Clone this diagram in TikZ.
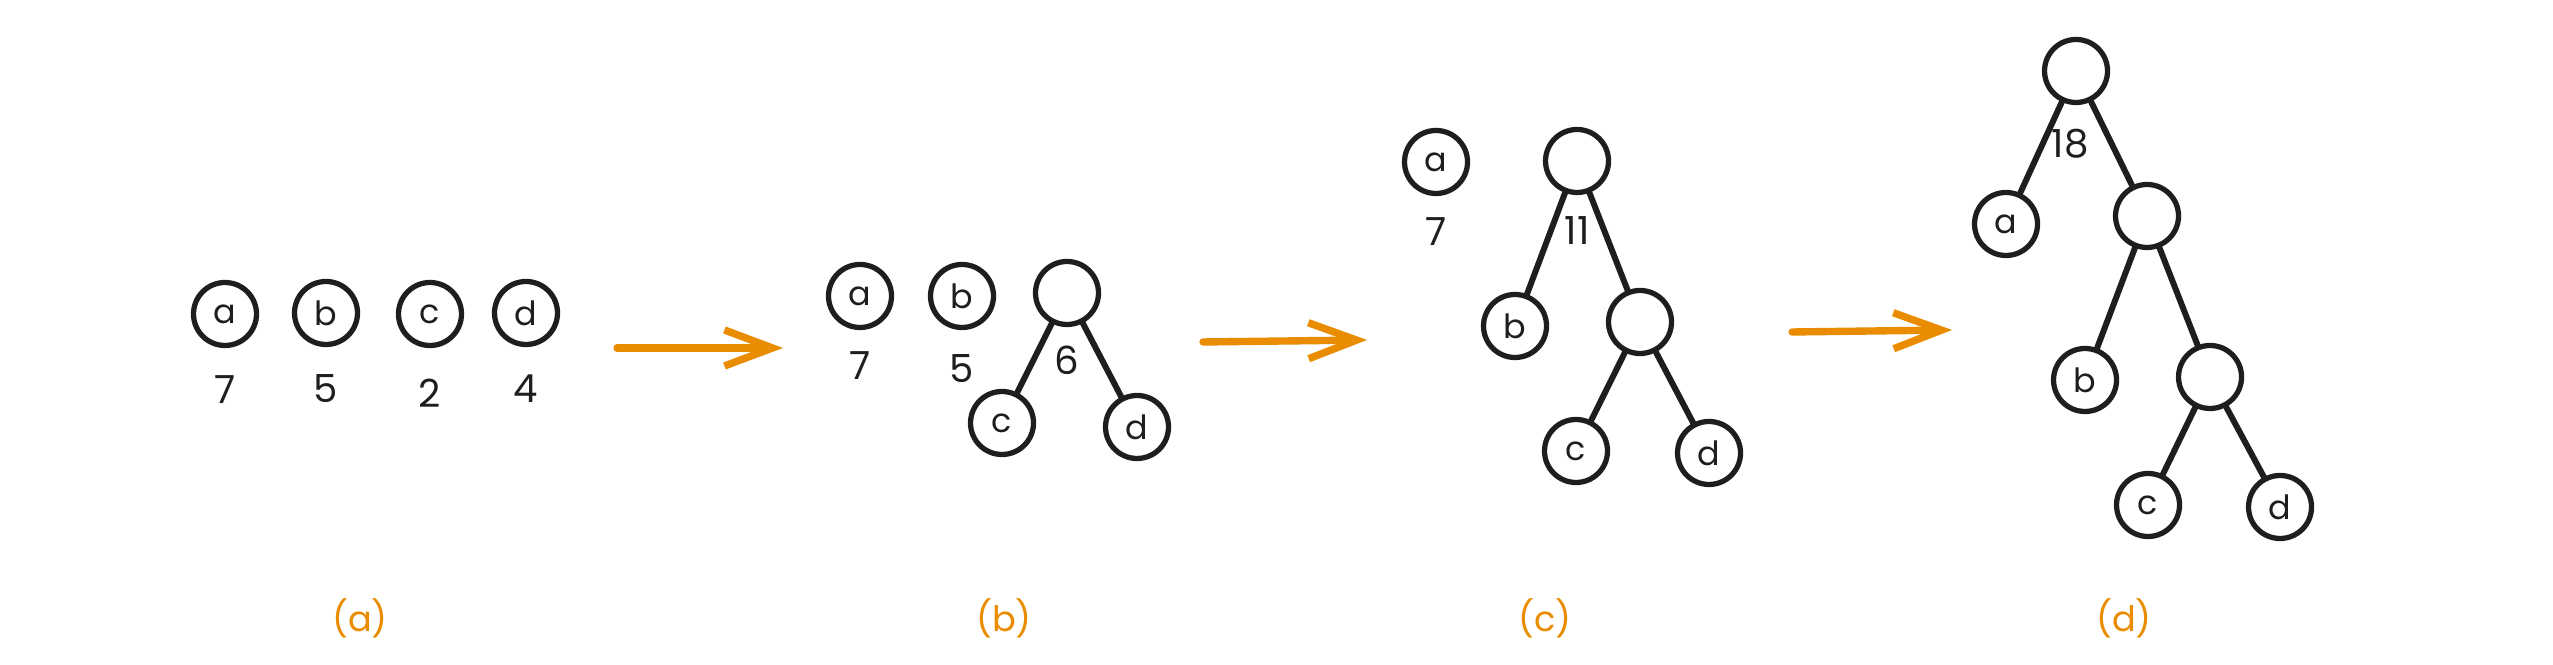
\documentclass[tikz,border=0pt]{standalone}
\usepackage{fontspec}
\setmainfont{Poppins}
\usepackage{tikz}
\usetikzlibrary{positioning,arrows.meta}
\definecolor{mergeorange}{RGB}{234,140,0}
\definecolor{inkblack}{RGB}{30,30,30}
\tikzset{
  leaf/.style={circle, draw=inkblack, line width=1.5pt, minimum size=6.3mm,
               inner sep=0pt, text=inkblack, font=\fontsize{9.5}{10}\selectfont},
  weight/.style={inner sep=0pt, text=inkblack, font=\fontsize{11}{12}\selectfont},
  branch/.style={draw=inkblack, line width=1.7pt, line cap=round},
  merge/.style={draw=mergeorange, line width=2.1pt, line cap=round,
                -{Straight Barb[length=4.8mm,width=3.6mm]}},
  panel/.style={text=mergeorange, font=\fontsize{10}{12}\selectfont},
}

\begin{document}
\begin{tikzpicture}
\useasboundingbox (0,0) rectangle (25.53,6.65);

% -----------------------------------------
% (a) four single nodes
% -----------------------------------------
\node[leaf] (a1) at (2.25,3.51) {a};
\node[leaf] (b1) at (3.26,3.52) {b};
\node[leaf] (c1) at (4.30,3.51) {c};
\node[leaf] (d1) at (5.26,3.52) {d};
\node[weight,below=2.7mm of a1] {7};
\node[weight,below=2.7mm of b1] {5};
\node[weight,below=3.0mm of c1] {2};
\node[weight,below=2.7mm of d1] {4};
\node[panel] (capa) at (3.60,0.47) {(a)};

\coordinate (s1) at (6.17,3.17);
\coordinate (e1) at (7.83,3.17);
\draw[merge] (s1) -- (e1);

% -----------------------------------------
% (b) c + d merged
% -----------------------------------------
\node[leaf] (a2) at (8.60,3.69) {a};
\node[leaf] (b2) at (9.62,3.69) {b};
\node[leaf] (r2) at (10.67,3.72) {};
\node[leaf] (c2) at (10.02,2.42) {c};
\node[leaf] (d2) at (11.37,2.38) {d};
\node[weight,below=2.1mm of a2] {7};
\node[weight,below=2.4mm of b2] {5};
\node[weight,below=1.8mm of r2] {6};
\draw[branch] (r2) -- (c2);
\draw[branch] (r2) -- (d2);
\node[panel] (capb) at (10.04,0.47) {(b)};

\coordinate (s2) at (12.03,3.23);
\coordinate (e2) at (13.67,3.25);
\draw[merge] (s2) -- (e2);

% -----------------------------------------
% (c) b + (c,d) merged
% -----------------------------------------
\node[leaf] (a3) at (14.36,5.03) {a};
\node[leaf] (r3) at (15.77,5.04) {};
\node[leaf] (b3) at (15.15,3.39) {b};
\node[leaf] (m3) at (16.40,3.43) {};
\node[leaf] (c3) at (15.76,2.14) {c};
\node[leaf] (d3) at (17.09,2.12) {d};
\node[weight,below=2.1mm of a3] {7};
\node[weight,below=2.1mm of r3] {11};
\draw[branch] (r3) -- (b3);
\draw[branch] (r3) -- (m3);
\draw[branch] (m3) -- (c3);
\draw[branch] (m3) -- (d3);
\node[panel] (capc) at (15.45,0.47) {(c)};

\coordinate (s3) at (17.92,3.33);
\coordinate (e3) at (19.52,3.35);
\draw[merge] (s3) -- (e3);

% -----------------------------------------
% (d) full tree
% -----------------------------------------
\node[leaf] (r4) at (20.76,5.94) {};
\node[leaf] (a4) at (20.06,4.41) {a};
\node[leaf] (m4) at (21.47,4.49) {};
\node[leaf] (b4) at (20.85,2.85) {b};
\node[leaf] (n4) at (22.10,2.88) {};
\node[leaf] (c4) at (21.48,1.60) {c};
\node[leaf] (d4) at (22.80,1.58) {d};
\node[weight,below=2.3mm of r4,xshift=-0.6mm] {18};
\draw[branch] (r4) -- (a4);
\draw[branch] (r4) -- (m4);
\draw[branch] (m4) -- (b4);
\draw[branch] (m4) -- (n4);
\draw[branch] (n4) -- (c4);
\draw[branch] (n4) -- (d4);
\node[panel] (capd) at (21.24,0.47) {(d)};
\end{tikzpicture}
\end{document}
